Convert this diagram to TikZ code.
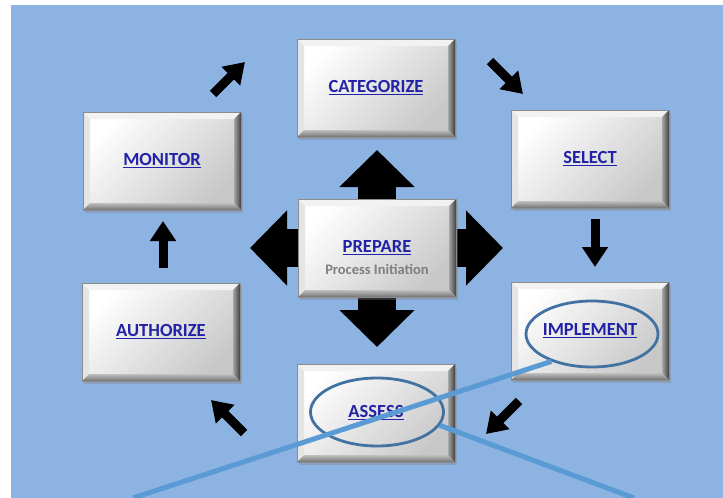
\documentclass[tikz,border=0pt]{standalone}
\usepackage{fontspec}
\setmainfont{Carlito}
\usetikzlibrary{arrows.meta,shapes.geometric,shadows}
\pgfdeclarelayer{back}
\pgfsetlayers{back,main}
\definecolor{bgblue}{HTML}{8DB3E2}
\definecolor{txtblue}{HTML}{2222A8}
\definecolor{lineblue}{HTML}{5B9BD5}
\definecolor{ellblue}{HTML}{4272A2}
\definecolor{subgray}{HTML}{7F7F7F}
\newcommand\ulbox[1]{\setbox0\hbox{#1}\rlap{\rule[-2.6pt]{\wd0}{1.4pt}}\box0}
\tikzset{
  bbox/.style={rectangle, minimum width=158pt, minimum height=98pt, inner sep=0pt,
    top color=white, bottom color=black!22, shading angle=45,
    draw=black!45, line width=0.6pt,
    drop shadow={shadow xshift=2pt, shadow yshift=-2.5pt, opacity=0.35},
    font=\fontsize{18.5}{22}\selectfont\bfseries, text=txtblue,
    path picture={
      \fill[black!5] (path picture bounding box.north west) -- (path picture bounding box.north east)
        -- ([shift={(-7pt,-7pt)}]path picture bounding box.north east)
        -- ([shift={(7pt,-7pt)}]path picture bounding box.north west) -- cycle;
      \fill[black!10] (path picture bounding box.north west)
        -- ([shift={(7pt,-7pt)}]path picture bounding box.north west)
        -- ([shift={(7pt,7pt)}]path picture bounding box.south west)
        -- (path picture bounding box.south west) -- cycle;
      \shade[left color=black!35, right color=black!75] (path picture bounding box.north east)
        -- (path picture bounding box.south east)
        -- ([shift={(-7pt,7pt)}]path picture bounding box.south east)
        -- ([shift={(-7pt,-7pt)}]path picture bounding box.north east) -- cycle;
      \shade[top color=black!25, bottom color=black!55] (path picture bounding box.south west)
        -- ([shift={(7pt,7pt)}]path picture bounding box.south west)
        -- ([shift={(-7pt,7pt)}]path picture bounding box.south east)
        -- (path picture bounding box.south east) -- cycle;
    }},
  subtext/.style={font=\fontsize{14.5}{17}\selectfont\bfseries, text=subgray, inner sep=0pt},
  sarr/.style={line width=9pt, -{Triangle[length=20pt,width=25pt]}},
  barr/.style={line width=38pt, -{Triangle[length=37pt,width=73pt]}},
  ell/.style={ellipse, draw=ellblue, line width=2.8pt, inner sep=0pt},
  callout/.style={draw=lineblue, line width=5pt}
}
\begin{document}
\begin{tikzpicture}[x=1pt,y=-1pt]
\useasboundingbox (0,0) rectangle (723,498);
\begin{pgfonlayer}{back}
  \fill[white] (0,0) rectangle (723,498);
  \fill[bgblue] (11,5) rectangle (723,498);
\end{pgfonlayer}

% boxes
\node[bbox] (cat)  at (376,88)  {\ulbox{CATEGORIZE}};
\node[bbox] (mon)  at (162,161) {\ulbox{MONITOR}};
\node[bbox] (sel)  at (590,159) {\ulbox{SELECT}};
\node[bbox] (prep) at (377,248) {\ulbox{PREPARE}};
\node[subtext] (prepsub) at ([yshift=-21pt]prep.center) {Process Initiation};
\node[bbox] (auth) at (161,332) {\ulbox{AUTHORIZE}};
\node[bbox] (impl) at (590,331) {\ulbox{IMPLEMENT}};
\node[bbox] (ass)  at (376,413) {\ulbox{ASSESS}};

% big four-way arrow behind PREPARE
\coordinate (upT) at (377,150);
\coordinate (dnT) at (377,347);
\coordinate (lfT) at (250,248);
\coordinate (rtT) at (503,248);
\begin{pgfonlayer}{back}
  \draw[barr] (prep.center) -- (upT);
  \draw[barr] (prep.center) -- (dnT);
  \draw[barr] (prep.center) -- (lfT);
  \draw[barr] (prep.center) -- (rtT);
\end{pgfonlayer}

% small cycle arrows
\coordinate (a1s) at (213,94);  \coordinate (a1e) at (245,62);
\coordinate (a2s) at (490,61);  \coordinate (a2e) at (523,94);
\coordinate (a3s) at (595,219); \coordinate (a3e) at (595,267);
\coordinate (a4s) at (519,401); \coordinate (a4e) at (486,434);
\coordinate (a5s) at (244,433); \coordinate (a5e) at (211,400);
\coordinate (a6s) at (163,268); \coordinate (a6e) at (163,221);
\draw[sarr] (a1s) -- (a1e);
\draw[sarr] (a2s) -- (a2e);
\draw[sarr] (a3s) -- (a3e);
\draw[sarr] (a4s) -- (a4e);
\draw[sarr] (a5s) -- (a5e);
\draw[sarr] (a6s) -- (a6e);

% highlight ellipses and callout lines
\node[ell, minimum width=132pt, minimum height=66pt] (e1) at (592,334) {};
\node[ell, minimum width=133pt, minimum height=68pt] (e2) at (377,412) {};
\coordinate (c1) at (133,498);
\coordinate (c2) at (634,498);
\draw[callout] (e1.214) -- (c1);
\draw[callout] (e2.-12) -- (c2);
\end{tikzpicture}
\end{document}
